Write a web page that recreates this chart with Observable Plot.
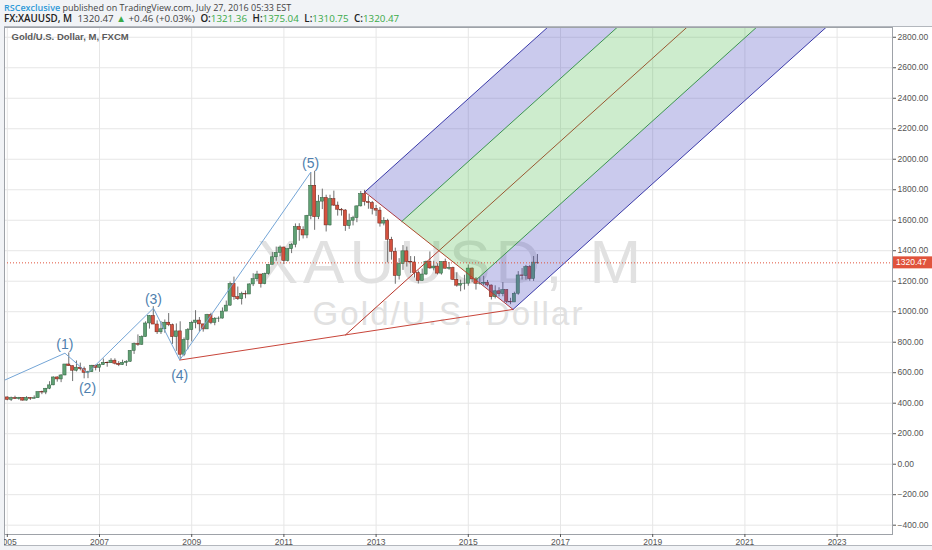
<!DOCTYPE html>
<html><head><meta charset="utf-8">
<script src="https://cdn.jsdelivr.net/npm/d3@7"></script>
<script src="https://cdn.jsdelivr.net/npm/@observablehq/plot@0.6"></script>
<style>
body{margin:0;background:#f1f3f6;font-family:"Liberation Sans",Arial,sans-serif;}
#wrap{position:relative;width:932px;height:550px;overflow:hidden;background:#f1f3f6;}
#panel{position:absolute;left:4px;top:26px;width:928px;height:520px;background:#fff;border-left:1px solid #b3b7bd;border-top:1px solid #b3b7bd;border-bottom:1px solid #b3b7bd;box-sizing:border-box;}
#chart{position:absolute;left:4px;top:0;}
#hdr{position:absolute;left:4px;top:0;white-space:nowrap;font-family:"Open Sans",sans-serif;font-size:9px;color:#444;line-height:11px;}
#hdr .l1{padding-top:1.5px;}
#hdr .l2{font-size:9.8px;}
#hdr .sp{margin-left:3px;}
#hdr b{color:#222;font-weight:600;}
#hdr .g{color:#3aaa48;}
#hdr .u{color:#2f9ad8;font-weight:600;}
</style></head>
<body>
<div id="wrap">
  <div id="panel"></div>
  <div id="chart"></div>
  <div id="hdr"></div>
</div>
<script>
// ---------- data (monthly XAUUSD, Jan 2005 .. Jul 2016) ----------
const startYear = 2005;
const opens = [
 438,422,434,428,435,417,435,429,433,473,470,495,
 517,569,556,582,654,643,613,633,623,599,604,646,
 632,650,665,662,679,659,650,665,672,743,789,783,
 834,923,972,916,865,885,928,912,833,871,718,815,
 880,927,942,917,884,979,927,954,955,1001,1040,1182,
 1096,1082,1116,1113,1179,1213,1244,1181,1247,1307,1357,1386,
 1421,1333,1410,1439,1556,1536,1500,1628,1826,1620,1722,1746,
 1566,1738,1696,1669,1664,1561,1597,1614,1691,1772,1719,1713,
 1675,1663,1578,1596,1472,1393,1234,1313,1396,1327,1323,1253,
 1202,1244,1326,1284,1296,1250,1327,1282,1287,1209,1171,1183,
 1184,1283,1212,1183,1184,1190,1172,1095,1134,1115,1142,1065,
 1061,1118,1238,1234,1293,1215,1321.36];
const highs = [
 441,440,446,438,436,443,437,448,474,479,497,541,
 572,573,587,654,730,644,677,663,637,610,648,650,
 657,690,671,692,691,673,682,679,745,795,848,842,
 934,975,1033,940,936,946,988,919,920,934,828,890,
 938,1007,962,917,983,990,962,966,1025,1070,1195,1227,
 1162,1128,1136,1183,1249,1265,1244,1253,1307,1388,1424,1431,
 1424,1411,1447,1576,1577,1557,1632,1913,1920,1763,1804,1764,
 1764,1791,1719,1677,1669,1640,1626,1693,1789,1796,1755,1723,
 1697,1684,1617,1606,1488,1417,1348,1434,1424,1362,1361,1267,
 1280,1332,1392,1331,1315,1325,1345,1323,1292,1255,1207,1239,
 1307,1287,1224,1224,1232,1205,1175,1170,1157,1191,1143,1088,
 1128,1263,1283,1304,1304,1362,1375.04];
const lows = [
 416,411,424,420,414,414,418,429,433,456,456,489,
 515,538,535,580,642,542,605,612,560,561,602,612,
 603,648,636,661,651,640,648,641,668,720,773,780,
 833,886,918,851,851,859,902,786,740,681,705,750,
 802,888,866,866,884,915,908,930,952,1002,1035,1075,
 1074,1044,1085,1113,1165,1197,1155,1177,1240,1315,1331,1360,
 1309,1326,1381,1419,1462,1477,1479,1603,1534,1604,1670,1523,
 1562,1690,1627,1627,1527,1540,1563,1584,1687,1693,1672,1635,
 1625,1555,1563,1321,1338,1180,1208,1271,1293,1251,1221,1182,
 1200,1238,1278,1268,1241,1240,1281,1272,1206,1161,1131,1142,
 1167,1191,1142,1175,1170,1162,1077,1084,1097,1098,1053,1046,
 1062,1108,1208,1207,1200,1199,1310.75];
const closes = [
 422,434,428,435,417,435,429,433,473,470,495,517,
 569,556,582,654,643,613,633,623,599,604,646,632,
 650,665,662,679,659,650,665,672,743,789,783,834,
 923,972,916,865,885,928,912,833,871,718,815,880,
 927,942,917,884,979,927,954,955,1001,1040,1182,1096,
 1082,1116,1113,1179,1213,1244,1181,1247,1307,1357,1386,1421,
 1333,1410,1439,1556,1536,1500,1628,1826,1620,1722,1746,1566,
 1738,1696,1669,1664,1561,1597,1614,1691,1772,1719,1713,1675,
 1663,1578,1596,1472,1393,1234,1313,1396,1327,1323,1253,1202,
 1244,1326,1284,1296,1250,1327,1282,1287,1209,1171,1183,1184,
 1283,1212,1183,1184,1190,1172,1095,1134,1115,1142,1065,1061,
 1118,1238,1234,1293,1215,1322,1320.47];

// Elliott wave points (decimal year, price) and labels
const waveX = [2004.94, 2006.25, 2006.74, 2008.17, 2008.74, 2011.58];
const waveY = [551, 728, 598, 1023, 683, 1914];
const waveLabels = ["", "(1)", "(2)", "(3)", "(4)", "(5)"];

// Pitchfork anchor points P0, P1, P2 (decimal year, price)
const forkX = [2012.336, 2012.755, 2015.97];
const forkY = [848, 1785, 1015];

// axes ticks
const xTicks = [2005, 2007, 2009, 2011, 2013, 2015, 2017, 2019, 2021, 2023];
const yTicks = [-400, -200, 0, 200, 400, 600, 800, 1000, 1200, 1400, 1600, 1800, 2000, 2200, 2400, 2600, 2800];
const xDomain = [2004.939, 2024.202];
const yDomain = [-461, 2864];

// header text
const symbol = "FX:XAUUSD, M";
const change = "+0.46 (+0.03%)";
const author = "RSCexclusive";
const published = "published on TradingView.com, July 27, 2016 05:33 EST";
const seriesTitle = "Gold/U.S. Dollar, M, FXCM";
const watermark1 = "XAUUSD, M";
const watermark2 = "Gold/U.S. Dollar";

// ---------- derived tables ----------
const bars = closes.map((c, i) => ({
  date: startYear + i / 12, open: opens[i], high: highs[i], low: lows[i], close: c,
  up: c >= opens[i]
}));
const last = bars[bars.length - 1];

const pt = (x, y) => ({x, y});
const P0 = pt(forkX[0], forkY[0]), P1 = pt(forkX[1], forkY[1]), P2 = pt(forkX[2], forkY[2]);
const M = pt((P1.x + P2.x) / 2, (P1.y + P2.y) / 2);
const dir = pt(M.x - P0.x, M.y - P0.y);
const U = pt(M.x + 0.5 * (P1.x - M.x), M.y + 0.5 * (P1.y - M.y));
const L = pt(M.x + 0.5 * (P2.x - M.x), M.y + 0.5 * (P2.y - M.y));
const ext = (p) => pt(p.x + 4 * dir.x, p.y + 4 * dir.y);

const bandUpper = [P1, U, ext(U), ext(P1), P1];
const bandMid = [U, L, ext(L), ext(U), U];
const bandLower = [L, P2, ext(P2), ext(L), L];

const wave = waveX.map((x, i) => ({x, y: waveY[i], label: waveLabels[i], i}));
const waveAbove = wave.filter(d => d.i === 1 || d.i === 3 || d.i === 5);
const waveBelow = wave.filter(d => d.i === 2 || d.i === 4);
const trend = [pt(waveX[4], waveY[4]), P2];

const upFill = "#5fa073", downFill = "#d4513e";
const upStroke = "#2d5f3d", downStroke = "#6a2218";
const blueFill = "rgb(80,80,195)", greenFill = "rgb(70,185,70)";

const chart = Plot.plot({
  width: 928, height: 550,
  marginTop: 27, marginBottom: 16, marginLeft: 0, marginRight: 40,
  x: {domain: xDomain},
  y: {domain: yDomain},
  style: {background: "transparent", fontFamily: "Liberation Sans, Arial, sans-serif", overflow: "hidden"},
  marks: [
    Plot.gridX(xTicks, {stroke: "#e6e6e6", strokeOpacity: 1}),
    Plot.gridY(yTicks, {stroke: "#e6e6e6", strokeOpacity: 1}),
    Plot.text([watermark1], {frameAnchor: "middle", dx: 3, dy: -18, fontSize: 62, fill: "#e1e1e1", textAnchor: "middle"}),
    Plot.text([watermark2], {frameAnchor: "middle", dx: 0, dy: 33, fontSize: 33, fill: "#e1e1e1", textAnchor: "middle"}),
    Plot.text([seriesTitle], {frameAnchor: "top-left", dx: 7, dy: 6, fontSize: 9.5, fontWeight: "bold", fill: "#5a5a5a", textAnchor: "start", lineAnchor: "top"}),
    // candles
    Plot.ruleX(bars, {x: "date", y1: "low", y2: "high", stroke: "#707070", strokeWidth: 1}),
    Plot.rect(bars, {
      x1: d => d.date - 0.42 / 12, x2: d => d.date + 0.42 / 12,
      y1: "open", y2: "close",
      fill: d => d.up ? upFill : downFill,
      stroke: d => d.up ? upStroke : downStroke, strokeWidth: 0.5
    }),
    // pitchfork red lines
    Plot.line(trend, {x: "x", y: "y", stroke: "#c8453a", strokeWidth: 1, clip: true}),
    Plot.line([P1, P2], {x: "x", y: "y", stroke: "#c0392b", strokeWidth: 1, clip: true}),
    Plot.line([P0, ext(M)], {x: "x", y: "y", stroke: "#b8352a", strokeWidth: 1, clip: true}),
    // pitchfork fills
    Plot.line(bandUpper, {x: "x", y: "y", fill: blueFill, fillOpacity: 0.3, stroke: "none", clip: true}),
    Plot.line(bandMid, {x: "x", y: "y", fill: greenFill, fillOpacity: 0.27, stroke: "none", clip: true}),
    Plot.line(bandLower, {x: "x", y: "y", fill: blueFill, fillOpacity: 0.3, stroke: "none", clip: true}),
    // pitchfork level lines
    Plot.line([P1, ext(P1)], {x: "x", y: "y", stroke: "#3a3aa8", strokeWidth: 1, clip: true}),
    Plot.line([P2, ext(P2)], {x: "x", y: "y", stroke: "#3a3aa8", strokeWidth: 1, clip: true}),
    Plot.line([U, ext(U)], {x: "x", y: "y", stroke: "#3c9450", strokeWidth: 1, clip: true}),
    Plot.line([L, ext(L)], {x: "x", y: "y", stroke: "#3c9450", strokeWidth: 1, clip: true}),
    // Elliott wave
    Plot.line(wave, {x: "x", y: "y", stroke: "#74a5d6", strokeWidth: 1, clip: true}),
    Plot.text(waveAbove, {x: "x", y: "y", text: "label", dy: -9, fontSize: 14, fill: "#4f7fae", lineAnchor: "middle"}),
    Plot.text(waveBelow, {x: "x", y: "y", text: "label", dy: 15, fontSize: 14, fill: "#4f7fae", lineAnchor: "middle"}),
    // last price dotted line
    Plot.ruleY([last.close], {stroke: "#e0533c", strokeWidth: 1, strokeDasharray: "1,2"}),
    // frame & axes
    Plot.frame({stroke: "#9ea2a8"}),
    Plot.axisX({ticks: xTicks, tickFormat: d => String(d), tickSize: 3, tickPadding: 1, fontSize: 8.5, color: "#555"}),
    Plot.axisY({anchor: "right", ticks: yTicks, tickFormat: d3.format(".2f"), tickSize: 3, tickPadding: 2, fontSize: 8.5, color: "#555"})
  ]
});
document.getElementById("chart").appendChild(chart);

const svg = d3.select(chart);
// watermark letter spacing (TradingView watermark is wider than Arial)
svg.selectAll("text").filter(function () { return this.textContent === watermark1; }).attr("letter-spacing", 5);
svg.selectAll("text").filter(function () { return this.textContent === watermark2; }).attr("letter-spacing", 2.1);

// last-price label box on the right axis, placed with the plot's y scale
const yLast = chart.scale("y").apply(last.close);
const xRight = chart.scale("x").apply(xDomain[1]);
const g = svg.append("g");
g.append("rect").attr("x", xRight + 1).attr("y", yLast - 6).attr("width", 40).attr("height", 12).attr("fill", "#e0533c");
g.append("text").attr("x", xRight + 4).attr("y", yLast + 3).attr("fill", "#fff").attr("font-size", 8.5)
  .attr("text-anchor", "start").text(d3.format(".2f")(last.close));

// header
const f2 = d3.format(".2f");
document.getElementById("hdr").innerHTML =
  `<div class="l1"><span class="u">${author}</span> ${published}</div>` +
  `<div class="l2"><b>${symbol}</b> <span class="sp">${f2(last.close)}</span> <span class="g">▲</span> ${change} ` +
  `<b class="sp">O:</b><span class="g">${f2(last.open)}</span> <b class="sp">H:</b><span class="g">${f2(last.high)}</span> ` +
  `<b class="sp">L:</b><span class="g">${f2(last.low)}</span> <b class="sp">C:</b><span class="g">${f2(last.close)}</span></div>`;
</script>
</body></html>
